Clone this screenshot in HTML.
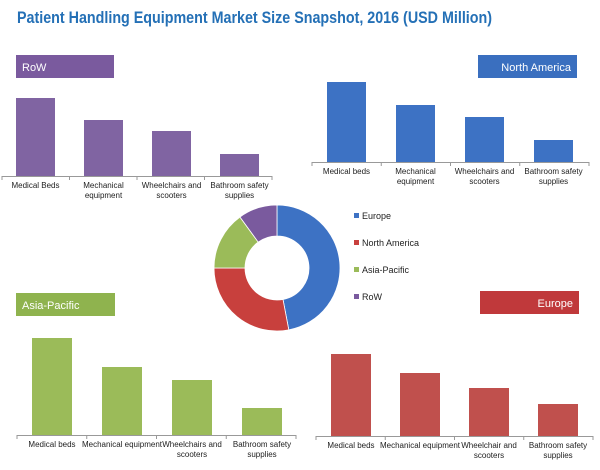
<!DOCTYPE html>
<html><head><meta charset="utf-8"><style>
body{margin:0;background:#fff;}
svg{display:block;font-family:"Liberation Sans",sans-serif;}
</style></head><body>
<svg id="chart" width="600" height="470">
<text x="17" y="23" font-size="17" font-weight="bold" fill="#2470b6" textLength="475" lengthAdjust="spacingAndGlyphs">Patient Handling Equipment Market Size Snapshot, 2016 (USD Million)</text>
</svg>
<script>
const categories = ["Medical beds","Mechanical equipment","Wheelchairs and scooters","Bathroom safety supplies"];
const rowValues = [78, 56, 45, 22];
const naValues = [80, 57, 45, 22];
const apValues = [97, 68, 55, 27];
const euValues = [82, 63, 48, 32];
const shareLabels = ["Europe","North America","Asia-Pacific","RoW"];
const shareValues = [47, 28, 15, 10];

const NS = "http://www.w3.org/2000/svg";
const svg = document.getElementById("chart");
function mk(tag, attrs, parent){const e=document.createElementNS(NS,tag);for(const k in attrs)e.setAttribute(k,attrs[k]);(parent||svg).appendChild(e);return e;}

const panels = [
 {key:"row", title:"RoW", vals:rowValues, color:"#8064a2", titleColor:"#7a5a9e", tx:16, ty:55, tw:98, tAlign:"start", axisX0:2, axisX1:272, base:176, bx0:16, step:68, bw:39},
 {key:"north-america", title:"North America", vals:naValues, color:"#3d72c4", titleColor:"#3a6fbf", tx:478, ty:55, tw:99, tAlign:"end", axisX0:312, axisX1:589, base:162, bx0:327, step:69, bw:39},
 {key:"asia-pacific", title:"Asia-Pacific", vals:apValues, color:"#9bbb59", titleColor:"#8fb34e", tx:16, ty:293, tw:99, tAlign:"start", axisX0:17, axisX1:296, base:435, bx0:32, step:70, bw:40},
 {key:"europe", title:"Europe", vals:euValues, color:"#c0504d", titleColor:"#c0393b", tx:480, ty:291, tw:99, tAlign:"end", axisX0:316, axisX1:593, base:436, bx0:331, step:69, bw:40}
];
const labelSets = {
 "row":[["Medical Beds"],["Mechanical","equipment"],["Wheelchairs and","scooters"],["Bathroom safety","supplies"]],
 "north-america":[["Medical beds"],["Mechanical","equipment"],["Wheelchairs and","scooters"],["Bathroom safety","supplies"]],
 "asia-pacific":[["Medical beds"],["Mechanical equipment"],["Wheelchairs and","scooters"],["Bathroom safety","supplies"]],
 "europe":[["Medical beds"],["Mechanical equipment"],["Wheelchair and","scooters"],["Bathroom safety","supplies"]]
};

panels.forEach(p=>{
  const g = mk("g",{});
  
  
  const tb = mk("rect",{x:p.tx,y:p.ty,width:p.tw,height:23,fill:p.titleColor},g);
  
  
  const tt = mk("text",{x:p.tAlign==="start"?p.tx+6:p.tx+p.tw-6,y:p.ty+16,"font-size":11,fill:"#fff","text-anchor":p.tAlign},g);
  tt.textContent = p.title;
  
  
  const yScale = v => p.base - v;
  p.vals.forEach((v,i)=>{
    const x = p.bx0 + i*p.step;
    const b = mk("rect",{x:x,y:yScale(v),width:p.bw,height:p.base-yScale(v),fill:p.color},g);
    
    
    const lines = labelSets[p.key][i];
    lines.forEach((ln,j)=>{
      const t = mk("text",{x:x+p.bw/2,y:p.base+12+j*10,"font-size":8,fill:"#222","text-anchor":"middle"},g);
      t.textContent = ln;
      
      
    });
  });
  const ax = mk("line",{x1:p.axisX0,x2:p.axisX1,y1:p.base+0.5,y2:p.base+0.5,stroke:"#999"},g);
  
  
  const seg = (p.axisX1-p.axisX0)/4;
  for(let i=0;i<=4;i++){
    const tk = mk("line",{x1:p.axisX0+i*seg,x2:p.axisX0+i*seg,y1:p.base,y2:p.base+4,stroke:"#999"},g);
    
    
  }
});

// donut
const cx=277, cy=268, R=63, r=32;
const dColors=["#3d72c4","#c8403d","#9bbb59","#7a5a9e"];
const total = shareValues.reduce((a,b)=>a+b,0);
let ang = -Math.PI/2;
const dg = mk("g",{});


shareValues.forEach((v,i)=>{
  const a0=ang, a1=ang+v/total*2*Math.PI; ang=a1;
  const large = (a1-a0)>Math.PI?1:0;
  const p=(rad,a)=>[cx+rad*Math.cos(a),cy+rad*Math.sin(a)];
  const [x0,y0]=p(R,a0),[x1,y1]=p(R,a1),[x2,y2]=p(r,a1),[x3,y3]=p(r,a0);
  const s = mk("path",{d:`M${x0},${y0}A${R},${R} 0 ${large} 1 ${x1},${y1}L${x2},${y2}A${r},${r} 0 ${large} 0 ${x3},${y3}Z`,fill:dColors[i],stroke:"#fff","stroke-width":0.8},dg);
  
  
  const ly = 218 + i*27;
  const m = mk("rect",{x:354,y:ly-5,width:5,height:5,fill:dColors[i]},dg);
  
  
  const lt = mk("text",{x:362,y:ly+1,"font-size":9,fill:"#222"},dg);
  lt.textContent = shareLabels[i];
  
  
});
</script>
</body></html>
